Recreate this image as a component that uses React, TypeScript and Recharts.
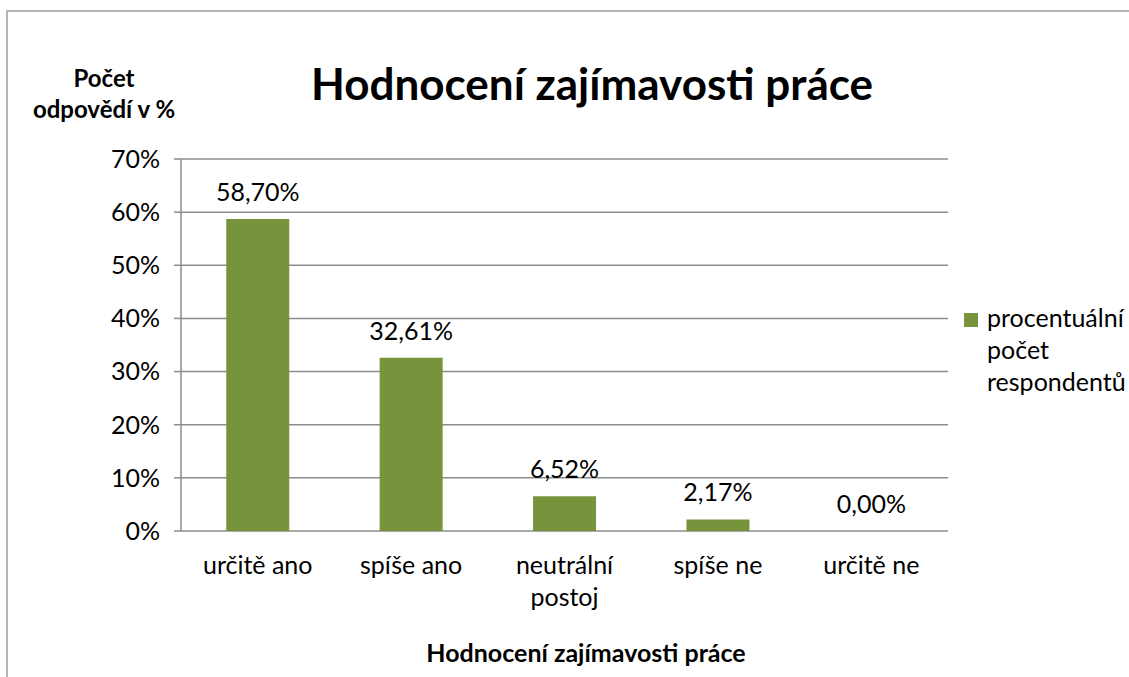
import React from 'react';
import { BarChart, Bar, XAxis, YAxis, CartesianGrid, LabelList, Legend } from 'recharts';

const categories = ['určitě ano', 'spíše ano', 'neutrální\npostoj', 'spíše ne', 'určitě ne'];
const values = [58.7, 32.61, 6.52, 2.17, 0.0];
const yTicks = [0, 10, 20, 30, 40, 50, 60, 70];
const seriesName = 'procentuální počet respondentů';
const title = 'Hodnocení zajímavosti práce';
const yTitle = ['Počet', 'odpovědí v %'];
const xTitle = 'Hodnocení zajímavosti práce';

const data = categories.map((c, i) => ({ cat: c, idx: i + 0.5, value: values[i] }));

const FONT = 'Lato, "Open Sans", sans-serif';
const GREEN = '#77933c';
const GRAY = '#8c8c8c';
const FS = 25;

const W = 1129;
const H = 677;

const CatTick = (props: any) => {
  const { x, y, payload } = props;
  const lines = String(payload.value).split('\n');
  return (
    <text x={x} y={y} textAnchor="middle" fontFamily={FONT} fontSize={FS} fill="#000">
      {lines.map((l, i) => (
        <tspan key={i} x={x} dy={i === 0 ? 24 : 32}>{l}</tspan>
      ))}
    </text>
  );
};

const LegendContent = (props: any) => {
  const { payload } = props;
  return (
    <div style={{ fontFamily: FONT, fontSize: FS, color: '#000' }}>
      {(payload || []).map((p: any, i: number) => (
        <div key={i} style={{ display: 'flex', alignItems: 'flex-start' }}>
          <div style={{ width: 14, height: 14, background: GREEN, marginTop: 12, marginRight: 9, flexShrink: 0 }} />
          <div style={{ width: 150, lineHeight: '32px' }}>{p.value}</div>
        </div>
      ))}
    </div>
  );
};

export default function App() {
  return (
    <div style={{ position: 'absolute', left: 0, top: 0, width: W, height: H, background: '#fff', overflow: 'hidden' }}>
      <div style={{ position: 'absolute', left: 6, top: 10, width: W + 20, height: H + 20, border: '2px solid #b5b5b5', boxSizing: 'border-box' }} />
      <div style={{ position: 'absolute', left: 0, top: 57, width: 1184, textAlign: 'center', fontFamily: FONT, fontWeight: 700, fontSize: 44, lineHeight: 1.2, color: '#000' }}>{title}</div>
      <div style={{ position: 'absolute', left: 24, top: 62, width: 160, textAlign: 'center', fontFamily: FONT, fontWeight: 700, fontSize: 24, lineHeight: '31px', color: '#000' }}>
        {yTitle[0]}<br />{yTitle[1]}
      </div>
      <div style={{ position: 'absolute', left: 0, top: 637, width: 1172, textAlign: 'center', fontFamily: FONT, fontWeight: 700, fontSize: FS, lineHeight: '30px', color: '#000' }}>{xTitle}</div>
      <div style={{ position: 'absolute', left: 0, top: 0 }}>
        <BarChart width={W} height={H} data={data} margin={{ top: 159, right: 181, left: 101, bottom: 86 }} barCategoryGap="29.5%">
          <CartesianGrid vertical={false} stroke={GRAY} strokeWidth={1.5} />
          <XAxis
            xAxisId="ticks"
            dataKey="idx"
            type="number"
            domain={[0, 5]}
            ticks={[0, 1, 2, 3, 4, 5]}
            tick={false}
            tickSize={7}
            height={0}
            stroke={GRAY}
            strokeWidth={1.5}
            allowDataOverflow
          />
          <XAxis
            dataKey="cat"
            interval={0}
            tickLine={false}
            axisLine={false}
            tickMargin={13}
            height={60}
            tick={<CatTick />}
          />
          <YAxis
            domain={[0, 70]}
            ticks={yTicks}
            tickFormatter={(v: number) => `${v}%`}
            width={80}
            tickSize={7}
            tickMargin={14}
            stroke={GRAY}
            strokeWidth={1.5}
            tick={{ fill: '#000', fontSize: FS, fontFamily: FONT }}
            interval={0}
          />
          <Legend
            layout="vertical"
            align="center"
            verticalAlign="middle"
            content={<LegendContent />}
            wrapperStyle={{ left: 964, top: 301, width: 180 }}
          />
          <Bar dataKey="value" name={seriesName} fill={GREEN} minPointSize={0.001} isAnimationActive={false}>
            <LabelList
              dataKey="value"
              position="top"
              offset={18}
              formatter={(v: number) => `${Number(v).toFixed(2).replace('.', ',')}%`}
              style={{ fill: '#000', fontSize: FS, fontFamily: FONT }}
            />
          </Bar>
        </BarChart>
      </div>
    </div>
  );
}
